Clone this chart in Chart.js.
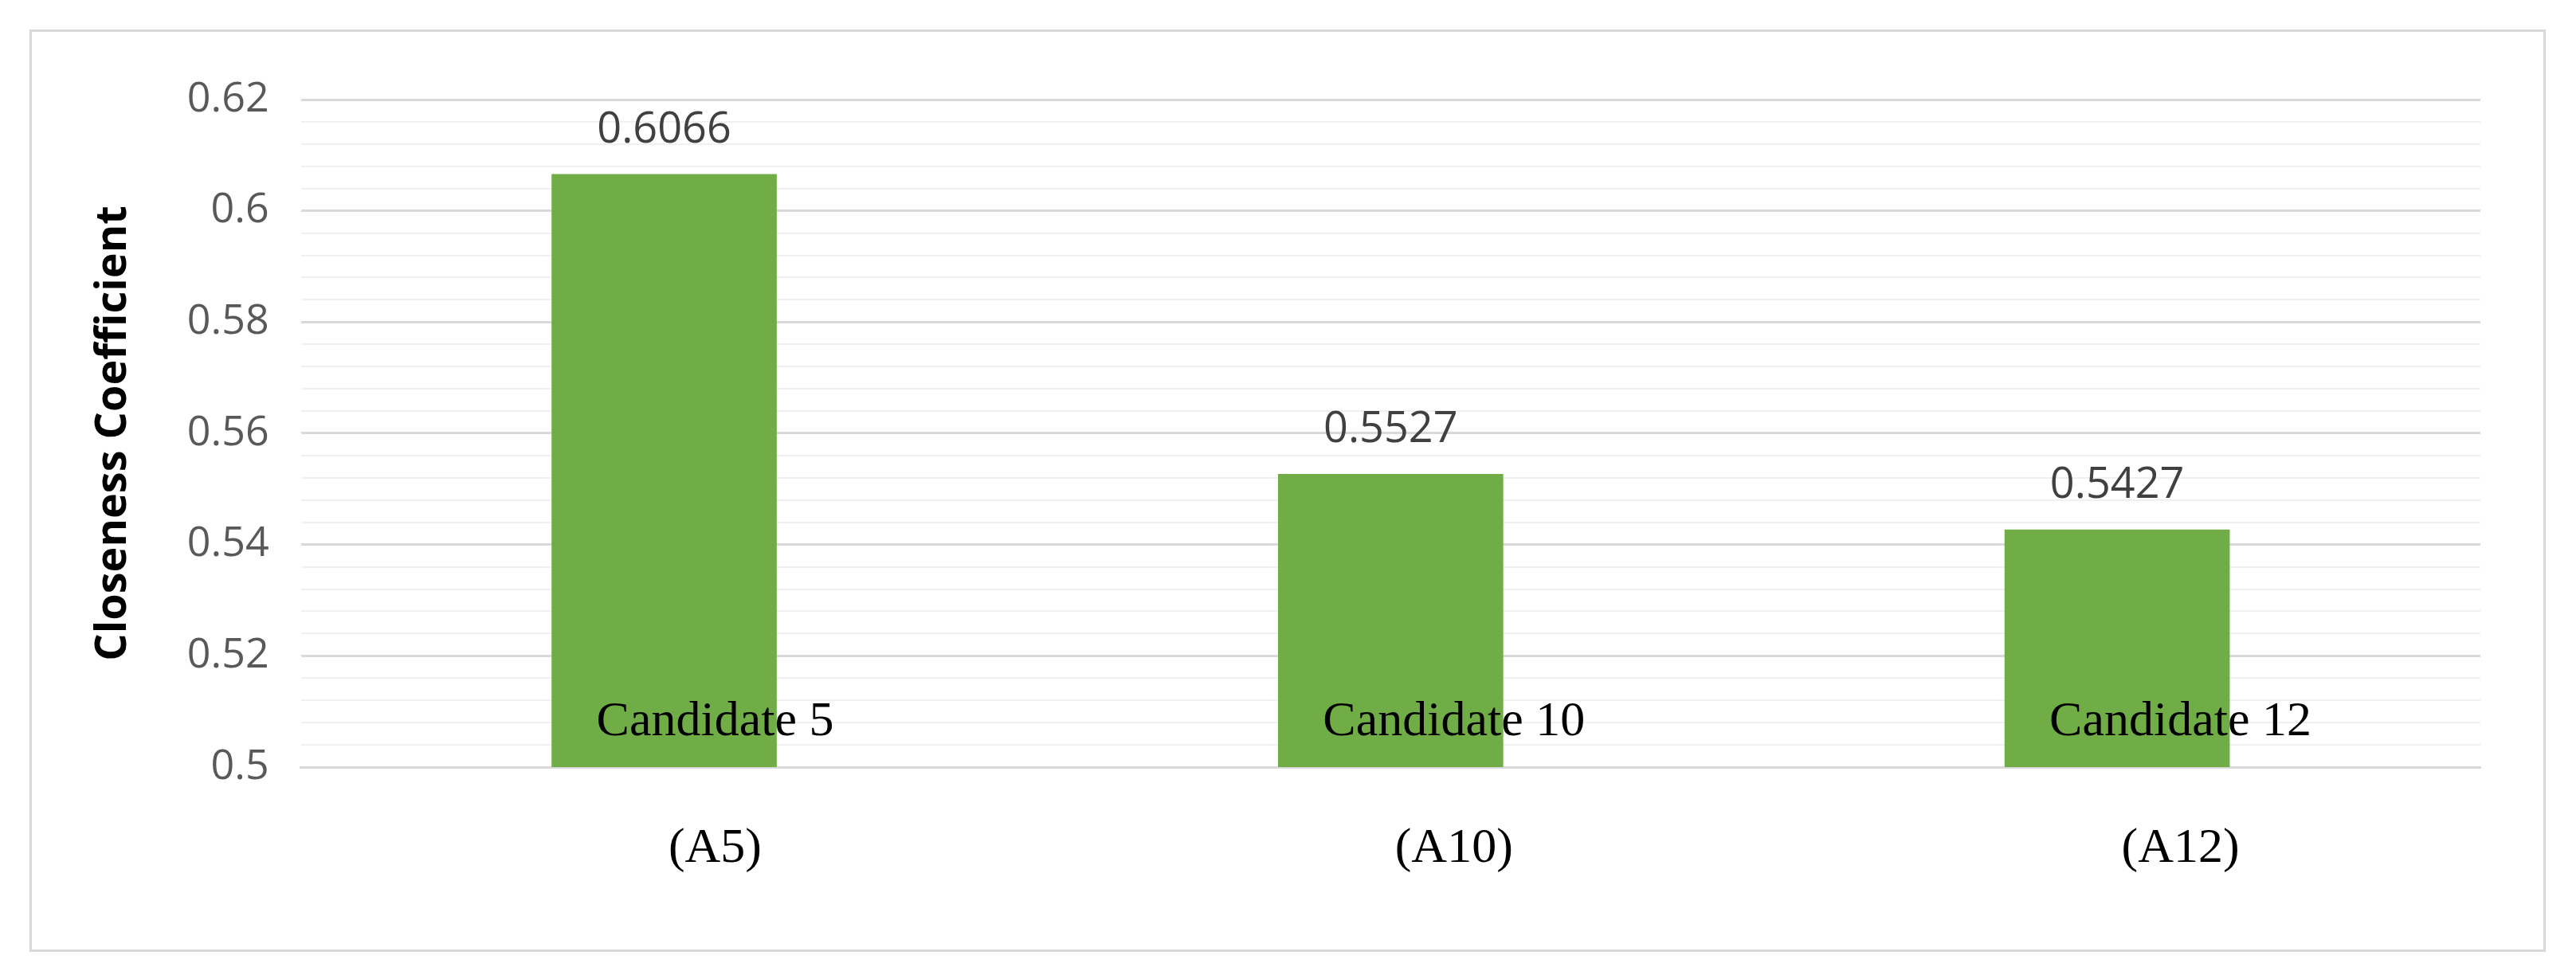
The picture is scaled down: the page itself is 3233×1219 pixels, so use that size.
<!DOCTYPE html>
<html>
<head>
<meta charset="utf-8">
<script src="https://cdn.jsdelivr.net/npm/chart.js@4/dist/chart.umd.min.js"></script>
<style>
  body { margin: 0; background: #fff; }
  #frame { position: absolute; left: 37px; top: 37px; width: 3152px; height: 1152px; border: 3px solid #d9d9d9; }
  #wrap { position: absolute; left: 0; top: 0; width: 3233px; height: 1219px; }
</style>
</head>
<body>
<div id="frame"></div>
<div id="wrap"><canvas id="chart"></canvas></div>
<script>
const categories = ['Candidate 5', 'Candidate 10', 'Candidate 12'];
const codes = ['(A5)', '(A10)', '(A12)'];
const values = [0.6066, 0.5527, 0.5427];
const yMin = 0.5, yMax = 0.62, minorStep = 0.004;

const isMajor = v => Math.abs(v * 50 - Math.round(v * 50)) < 1e-6;

// value labels above bars + two-line category labels drawn over the bars
const barText = {
    id: 'barText',
    afterDatasetsDraw(chart) {
        const ctx = chart.ctx;
        const xAxis = chart.scales.x;
        ctx.save();
        ctx.textAlign = 'center';
        chart.getDatasetMeta(0).data.forEach((bar, i) => {
            ctx.font = '54px "Open Sans", "DejaVu Sans", sans-serif';
            ctx.fillStyle = '#404040';
            ctx.textBaseline = 'bottom';
            ctx.fillText(values[i].toFixed(4), bar.x, bar.y - 28);

            ctx.font = '62px "Liberation Serif", "DejaVu Serif", serif';
            ctx.fillStyle = '#000';
            ctx.textBaseline = 'middle';
            const w = ctx.measureText(categories[i]).width;
            const cx = bar.x - 85 + w / 2;
            ctx.fillText(categories[i], cx, xAxis.top - 56);
            ctx.fillText(codes[i], cx, xAxis.top + 103);
        });
        ctx.restore();
    }
};

new Chart(document.getElementById('chart'), {
    type: 'bar',
    data: {
        labels: categories,
        datasets: [{
            data: values,
            backgroundColor: '#70ad47',
            categoryPercentage: 1,
            barPercentage: 0.31
        }]
    },
    options: {
        responsive: true,
        maintainAspectRatio: false,
        animation: false,
        layout: { padding: { top: 125, right: 120, left: 90, bottom: 248 } },
        plugins: { legend: { display: false }, tooltip: { enabled: false } },
        scales: {
            x: {
                grid: { display: false },
                border: { color: '#d9d9d9', width: 3 },
                ticks: { display: false }
            },
            y: {
                min: yMin,
                max: yMax,
                border: { display: false },
                grid: {
                    drawTicks: false,
                    color: ctx => isMajor(ctx.tick.value) ? '#d9d9d9' : '#f0f0f0',
                    lineWidth: ctx => isMajor(ctx.tick.value) ? 3 : 2
                },
                ticks: {
                    stepSize: minorStep,
                    autoSkip: false,
                    padding: 40,
                    color: '#595959',
                    font: { family: '"Open Sans", "DejaVu Sans", sans-serif', size: 52 },
                    callback: v => isMajor(v) ? String(+v.toFixed(2)) : ''
                },
                title: {
                    display: true,
                    text: 'Closeness Coefficient',
                    color: '#000',
                    padding: 20,
                    font: { family: '"Open Sans", "DejaVu Sans", sans-serif', size: 54, weight: 'bold' }
                }
            }
        }
    },
    plugins: [barText]
});
</script>
</body>
</html>
